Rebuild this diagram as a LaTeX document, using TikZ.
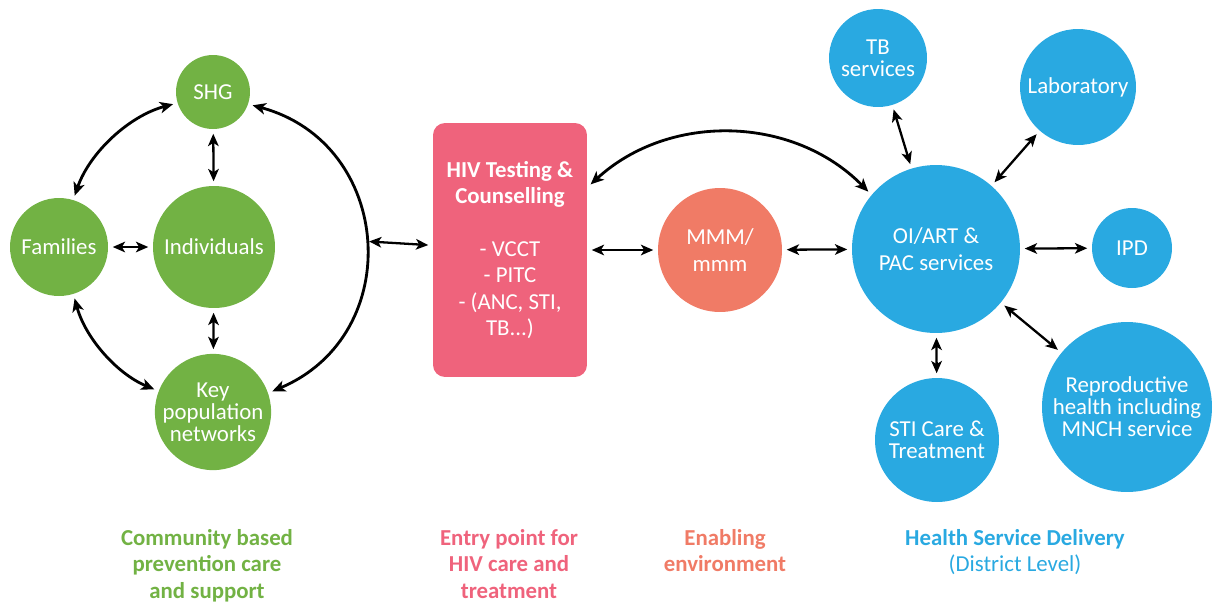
\documentclass[tikz,border=0pt]{standalone}
\usepackage{fontspec}
\setmainfont{Carlito}
\usetikzlibrary{arrows.meta}

\definecolor{cgreen}{HTML}{72B244}
\definecolor{cpink}{HTML}{EF637C}
\definecolor{csalmon}{HTML}{F07B66}
\definecolor{cblue}{HTML}{29A9E1}

\begin{document}
\begin{tikzpicture}[x=0.02cm,y=-0.02cm,>={Stealth[length=7pt,width=6pt,inset=1.8pt]},
    bubble/.style={circle,inner sep=0pt,align=center,text=white,
      font=\fontsize{13}{12.5}\selectfont},
    community/.style={bubble,fill=cgreen},
    service/.style={bubble,fill=cblue},
    link/.style={<->,line width=1.3pt,shorten >=2.5pt,shorten <=2.5pt},
    bow/.style={link,line width=1.6pt,>={Stealth[length=7.5pt,width=6.5pt,inset=2pt]}},
    caption/.style={anchor=north,inner sep=0pt,align=center,
      font=\fontsize{13}{15}\selectfont\bfseries}]
    \useasboundingbox (0,0) rectangle (1213,603);

    % community based care
    \node[community,minimum size=1.48cm] (shg)      at (213,92)  {SHG};
    \node[community,minimum size=2.44cm] (indiv)    at (214,247) {Individuals};
    \node[community,minimum size=1.96cm] (families) at (59,247)  {Families};
    \node[community,minimum size=2.32cm] (keypop)   at (213,412) {Key\\population\\networks};

    % entry point and enabling environment
    \node[fill=cpink,rounded corners=0.24cm,minimum width=3.08cm,minimum height=5.08cm,
      align=center,text=white,font=\fontsize{13}{15}\selectfont] (htc) at (510,250)
      {\textbf{HIV Testing \&}\\\textbf{Counselling}\\[15pt]- VCCT\\- PITC\\- (ANC, STI,\\TB...)};
    \node[bubble,fill=csalmon,minimum size=2.48cm,font=\fontsize{13}{15}\selectfont] (mmm) at (720,250) {MMM/\\mmm};

    % health services
    \node[service,minimum size=3.36cm,font=\fontsize{13}{15}\selectfont] (oiart) at (936,249) {OI/ART \&\\PAC services};
    \node[service,minimum size=1.96cm] (tb)    at (878,58)   {TB\\services};
    \node[service,minimum size=2.32cm] (lab)   at (1078,87)  {Laboratory};
    \node[service,minimum size=1.60cm] (ipd)   at (1132,248) {IPD};
    \node[service,minimum size=2.48cm] (sti)   at (937,440)  {STI Care \&\\Treatment};
    \node[service,minimum size=3.40cm] (repro) at (1127,407) {Reproductive\\health including\\MNCH service};

    % links
    \draw[link] (shg) -- (indiv);
    \draw[link] (families) -- (indiv);
    \draw[link] (indiv) -- (keypop);
    \draw[bow] (shg) to[bend right=28,looseness=0.9] (families);
    \draw[bow] (families) to[bend right=26,looseness=0.9] (keypop);
    \draw[bow] (shg) to[bend left=71,looseness=1.33] coordinate[pos=0.5] (loop) (keypop);
    \draw[link] (loop) -- (htc);
    \draw[link] (htc) -- (mmm);
    \draw[link] (mmm) -- (oiart);
    \draw[bow] (htc.39) to[bend left=44] (oiart.140);
    \draw[link] (oiart) -- (tb);
    \draw[link] (oiart) -- (lab);
    \draw[link] (oiart) -- (ipd);
    \draw[link] (oiart) -- (sti);
    \draw[link] (oiart) -- (repro);

    % captions
    \node[caption,text=cgreen]  (capcomm)  at (207,529)  {Community based\\prevention care\\and support};
    \node[caption,text=cpink]   (capentry) at (509,529)  {Entry point for\\HIV care and\\treatment};
    \node[caption,text=csalmon] (capenv)   at (725,529)  {Enabling\\environment};
    \node[caption,text=cblue]   (caphsd)   at (1015,529) {Health Service Delivery\\\mdseries(District Level)};
\end{tikzpicture}
\end{document}
